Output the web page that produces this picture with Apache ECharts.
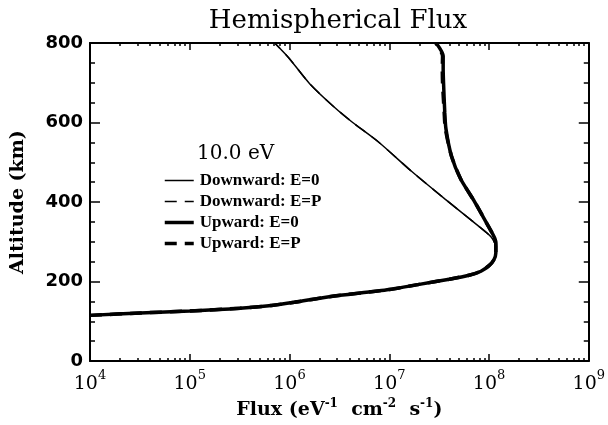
<!DOCTYPE html>
<html>
<head>
<meta charset="utf-8">
<script src="https://cdn.jsdelivr.net/npm/echarts@6/dist/echarts.min.js"></script>
<style>
  html, body { margin: 0; padding: 0; background: #fff; }
  #chart { width: 608px; height: 425px; }
</style>
</head>
<body>
<div id="chart"></div>
<script>
// Altitude (km) samples for each profile
var altDown = [115, 121, 126, 133, 140, 148, 162, 180, 193, 206, 216, 226, 240, 255, 272,
               288, 312, 340, 408, 478, 551, 600, 639, 697, 763, 800];
var altUp = [115, 121, 126, 133, 140, 148, 162, 180, 193, 206, 216, 226, 240, 255, 272,
             288, 307, 340, 400, 458, 516, 584, 626, 700, 735, 767, 800];

// Flux (eV-1 cm-2 s-1)
var fluxDownE0 = [1.0e4, 3.2e4, 1.0e5, 3.2e5, 6.6e5, 1.12e6, 2.5e6, 1.0e7, 2.0e7, 4.0e7, 6.3e7, 8.3e7, 1.0e8, 1.12e8, 1.17e8,
                  1.17e8, 1.05e8, 7.8e7, 3.6e7, 1.66e7, 7.8e6, 4.3e6, 2.8e6, 1.6e6, 9.8e5, 7.1e5];
var fluxDownEP = [1.0e4, 3.2e4, 1.0e5, 3.2e5, 6.6e5, 1.12e6, 2.5e6, 1.0e7, 2.0e7, 4.0e7, 6.3e7, 8.3e7, 1.0e8, 1.12e8, 1.17e8,
                  1.17e8, 1.05e8, 7.8e7, 3.6e7, 1.66e7, 7.8e6, 4.3e6, 2.8e6, 1.6e6, 9.8e5, 7.1e5];
var fluxUpE0 = [1.0e4, 3.2e4, 1.0e5, 3.2e5, 6.6e5, 1.12e6, 2.5e6, 1.0e7, 2.0e7, 4.0e7, 6.3e7, 8.3e7, 1.0e8, 1.12e8, 1.17e8,
                1.17e8, 1.15e8, 9.8e7, 7.2e7, 5.2e7, 4.2e7, 3.7e7, 3.6e7, 3.5e7, 3.47e7, 3.47e7, 2.95e7];
var fluxUpEP = [1.0e4, 3.2e4, 1.0e5, 3.2e5, 6.6e5, 1.12e6, 2.5e6, 1.0e7, 2.0e7, 4.0e7, 6.3e7, 8.3e7, 1.0e8, 1.12e8, 1.17e8,
                1.17e8, 1.15e8, 9.8e7, 7.2e7, 5.2e7, 4.2e7, 3.65e7, 3.55e7, 3.42e7, 3.4e7, 3.42e7, 2.92e7];

var seriesNames = ['Downward: E=0', 'Downward: E=P', 'Upward: E=0', 'Upward: E=P'];

// x axis is drawn in decades (log10 of flux)
var decades = [4, 5, 6, 7, 8, 9];
var minorDecades = [];
for (var d = 4; d < 9; d++) {
    for (var k = 2; k <= 9; k++) {
        minorDecades.push(d + Math.log10(k));
    }
}

function pairs(flux, alt) {
    var out = [];
    for (var i = 0; i < flux.length; i++) {
        out.push([Math.log10(flux[i]), alt[i]]);
    }
    return out;
}

var serif = 'DejaVu Serif';

function xAxisCfg(pos, len, values, withLabels, showLine) {
    return {
        type: 'value',
        position: pos,
        min: 4,
        max: 9,
        axisLine: { show: showLine, onZero: false, lineStyle: { color: '#000', width: 2 } },
        axisTick: { inside: true, length: len, customValues: values, lineStyle: { color: '#000', width: 1.5 } },
        axisLabel: withLabels ? {
            customValues: decades,
            margin: 8,
            formatter: function (v) { return '{b|10}{s|' + Math.round(v) + '}'; },
            rich: {
                b: { fontFamily: serif, fontSize: 19, color: '#000', lineHeight: 24, verticalAlign: 'bottom' },
                s: { fontFamily: serif, fontSize: 13, color: '#000', lineHeight: 14, verticalAlign: 'top' }
            }
        } : { show: false },
        splitLine: { show: false }
    };
}

function yAxisCfg(pos, withLabels) {
    return {
        type: 'value',
        position: pos,
        min: 0,
        max: 800,
        interval: 200,
        name: withLabels ? 'Altitude (km)' : '',
        nameLocation: 'middle',
        nameGap: 62,
        nameTextStyle: { fontFamily: serif, fontWeight: 'bold', fontSize: 19, color: '#000' },
        axisLine: { show: true, lineStyle: { color: '#000', width: 2 } },
        axisTick: { inside: true, length: 10, lineStyle: { color: '#000', width: 1.5 } },
        minorTick: { show: true, splitNumber: 4, length: 5, lineStyle: { color: '#000', width: 1.5 } },
        axisLabel: withLabels ? {
            margin: 7,
            fontFamily: 'DejaVu Sans',
            fontWeight: 'bold',
            fontSize: 18,
            color: '#000'
        } : { show: false },
        splitLine: { show: false }
    };
}

var chart = echarts.init(document.getElementById('chart'));

var bottomAxis = xAxisCfg('bottom', 7, decades, true, true);
bottomAxis.name = '{n|Flux (eV}{s|-1}{n|  cm}{s|-2}{n|  s}{s|-1}{n|)}';
bottomAxis.nameLocation = 'middle';
bottomAxis.nameGap = 35;
bottomAxis.nameTextStyle = {
    rich: {
        n: { fontFamily: serif, fontWeight: 'bold', fontSize: 19, color: '#000', lineHeight: 22, verticalAlign: 'bottom' },
        s: { fontFamily: serif, fontWeight: 'bold', fontSize: 12, color: '#000', lineHeight: 12, verticalAlign: 'top' }
    }
};

var option = {
    backgroundColor: '#fff',
    animation: false,
    title: [
        {
            text: 'Hemispherical Flux',
            left: 338,
            top: 8,
            padding: 0,
            textAlign: 'center',
            textStyle: { fontFamily: serif, fontSize: 26, fontWeight: 'normal', color: '#000' }
        },
        {
            text: '10.0 eV',
            left: 197,
            top: 144,
            padding: 0,
            textStyle: { fontFamily: serif, fontSize: 20, fontWeight: 'normal', color: '#000' }
        }
    ],
    legend: {
        orient: 'vertical',
        left: 163,
        top: 172,
        padding: 0,
        itemWidth: 29,
        itemHeight: 14,
        itemGap: 4,
        itemStyle: { color: 'rgba(0,0,0,0)', borderWidth: 0, opacity: 0 },
        textStyle: { fontFamily: 'Liberation Serif', fontWeight: 'bold', fontSize: 17, lineHeight: 15, color: '#000', padding: [0, 0, 0, 1] },
        data: [
            { name: seriesNames[0], lineStyle: { width: 1.5, type: 'solid', color: '#000' } },
            { name: seriesNames[1], lineStyle: { width: 1.5, type: [12, 8], color: '#000' } },
            { name: seriesNames[2], lineStyle: { width: 3.5, type: 'solid', color: '#000' } },
            { name: seriesNames[3], lineStyle: { width: 3.5, type: [12, 8], color: '#000' } }
        ]
    },
    grid: { left: 90, right: 17, top: 43, bottom: 63 },
    xAxis: [
        bottomAxis,
        xAxisCfg('bottom', 3, minorDecades, false, false),
        xAxisCfg('top', 7, decades, false, true),
        xAxisCfg('top', 3, minorDecades, false, false)
    ],
    yAxis: [
        yAxisCfg('left', true),
        yAxisCfg('right', false)
    ],
    series: [
        {
            name: seriesNames[0], type: 'line', symbol: 'none', clip: true, color: '#000',
            smooth: 0.25,
            lineStyle: { color: '#000', width: 1.5, type: 'solid' },
            data: pairs(fluxDownE0, altDown)
        },
        {
            name: seriesNames[1], type: 'line', symbol: 'none', clip: true, color: '#000',
            smooth: 0.25,
            lineStyle: { color: '#000', width: 1.5, type: [12, 8] },
            data: pairs(fluxDownEP, altDown)
        },
        {
            name: seriesNames[2], type: 'line', symbol: 'none', clip: true, color: '#000',
            smooth: 0.25,
            lineStyle: { color: '#000', width: 3.5, type: 'solid' },
            data: pairs(fluxUpE0, altUp)
        },
        {
            name: seriesNames[3], type: 'line', symbol: 'none', clip: true, color: '#000',
            smooth: 0.25,
            lineStyle: { color: '#000', width: 3.5, type: [12, 8] },
            data: pairs(fluxUpEP, altUp)
        }
    ]
};
chart.setOption(option);
</script>
</body>
</html>
